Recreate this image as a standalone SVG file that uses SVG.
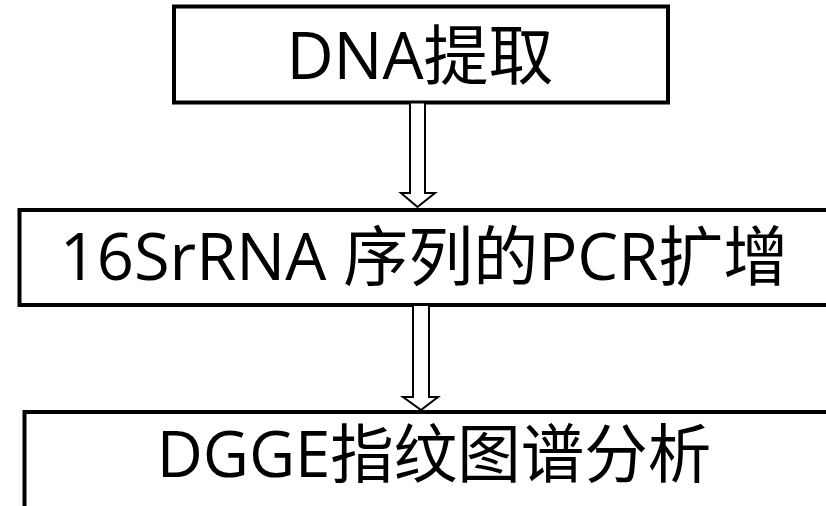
<svg xmlns="http://www.w3.org/2000/svg" width="826" height="506" viewBox="0 0 826 506">
<style>
.box{fill:#fff;stroke:#000;stroke-width:4}
.arr{fill:#fff;stroke:#000;stroke-width:2;stroke-linejoin:miter}
.t{font-family:"Open Sans","Noto Sans CJK SC",sans-serif;font-size:65px;fill:#000;text-anchor:middle}
</style>
<rect width="826" height="506" fill="#fff"/>
<g id="node1">
<rect class="box" x="174" y="6.5" width="494" height="96"/>
<text class="t" x="420" y="79">DNA提取</text>
</g>
<g id="node2">
<rect class="box" x="19.5" y="210" width="830" height="95"/>
<text class="t" x="424" y="280">16SrRNA 序列的PCR扩增</text>
</g>
<g id="node3">
<rect class="box" x="24.5" y="412" width="830" height="120"/>
<text class="t" x="434" y="477" style="font-size:63.5px">DGGE指纹图谱分析</text>
</g>
<g id="connectors">
<polygon class="arr" points="410,102.5 425,102.5 425,193 435,193 417.5,207 401,193 410,193"/>
<polygon class="arr" points="413,305 429,305 429,397 438,397 421,410 403,397 413,397"/>
</g>
</svg>
